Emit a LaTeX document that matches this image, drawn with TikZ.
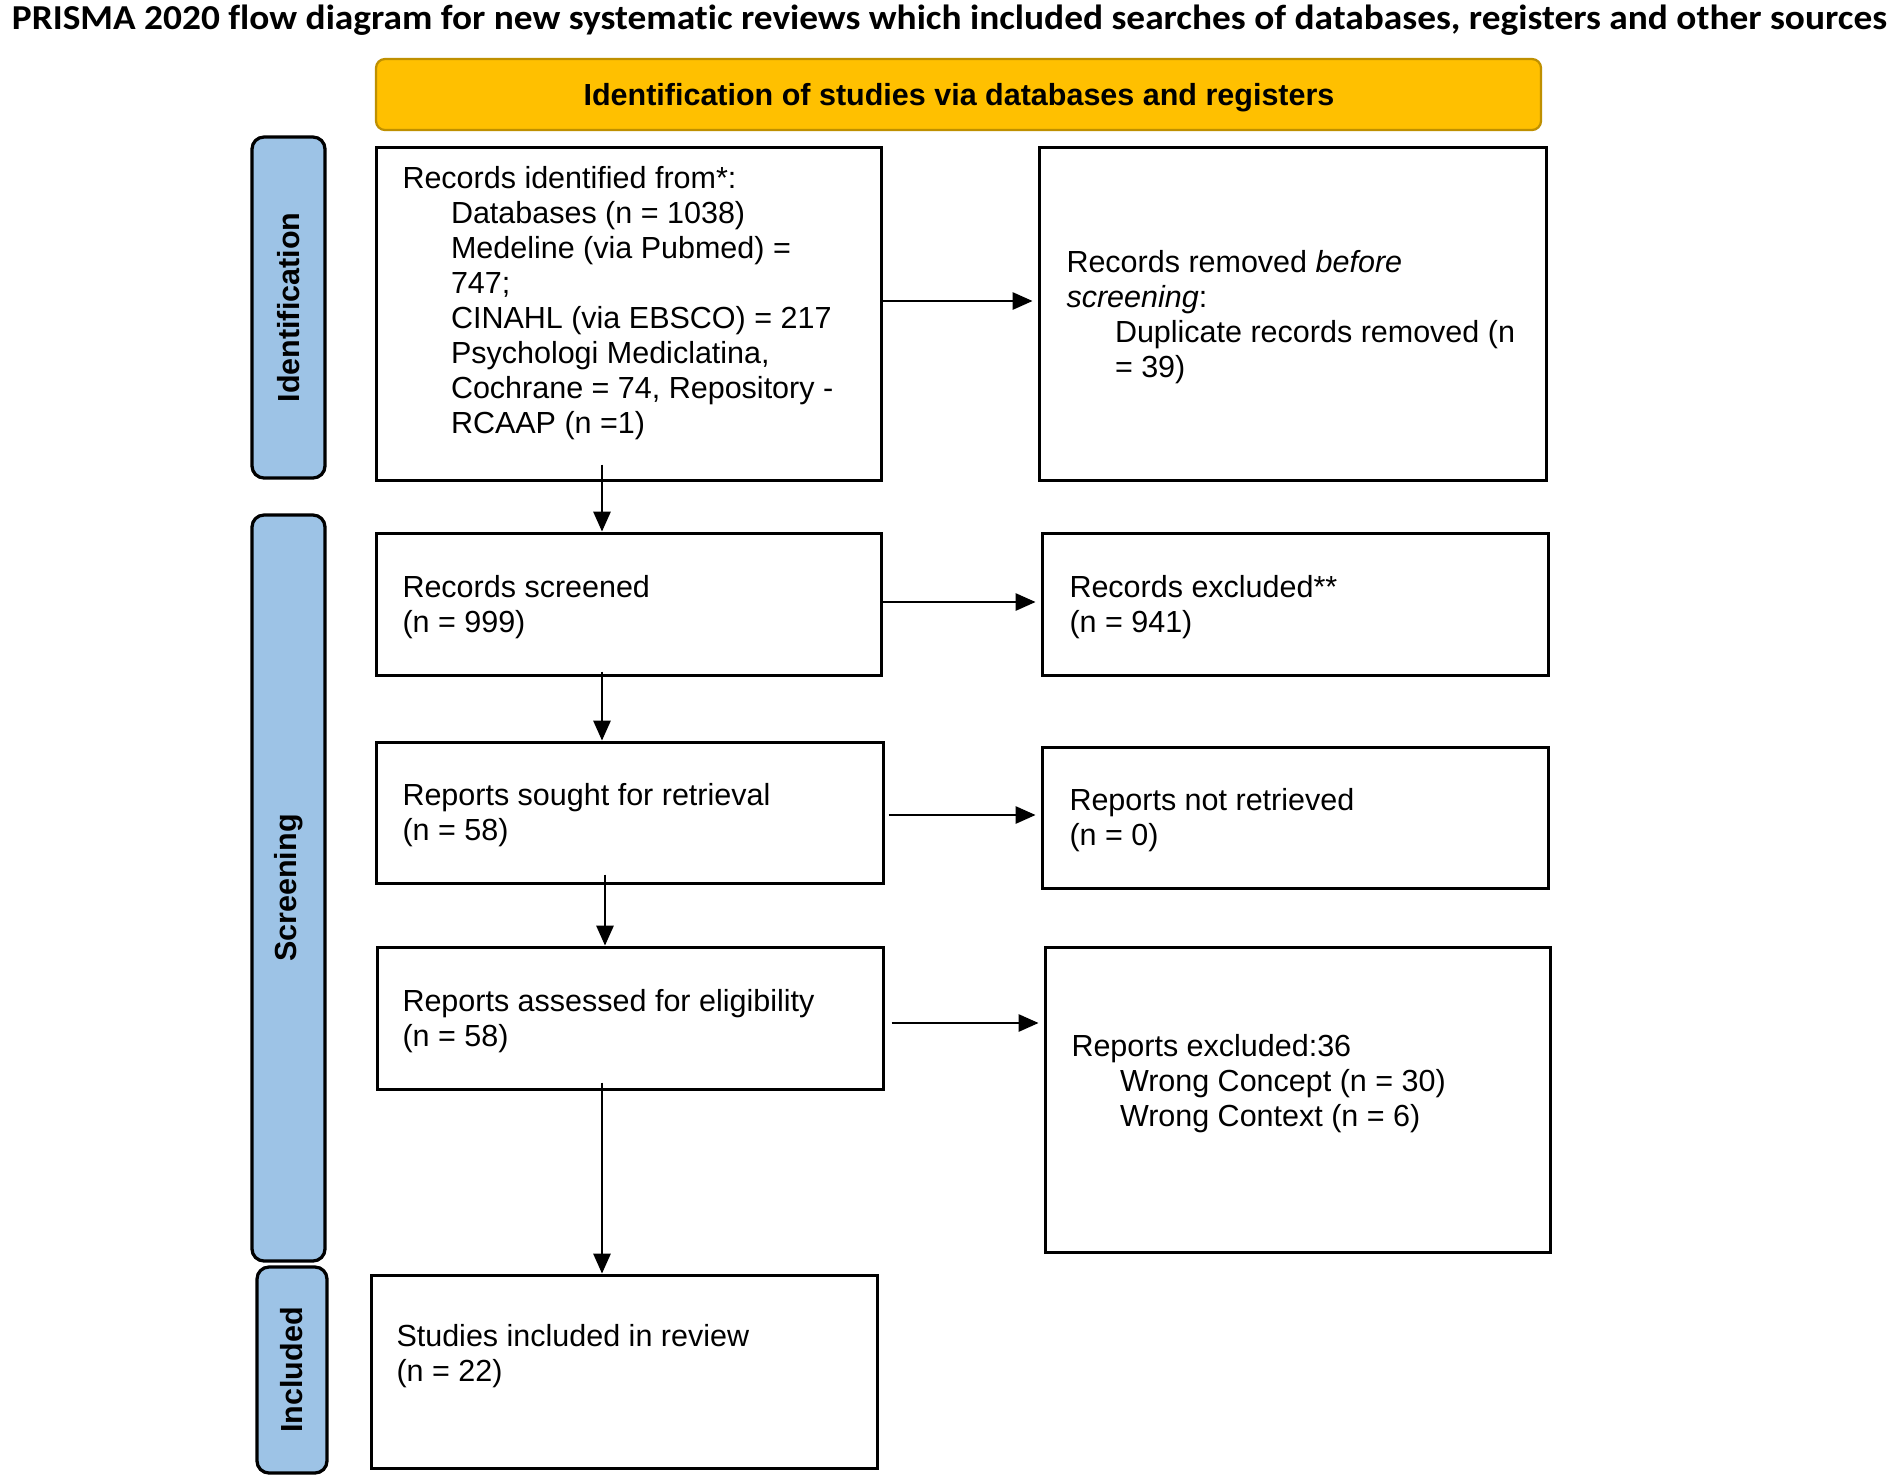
\documentclass[tikz,border=0pt]{standalone}
\usepackage{fontspec}
\usepackage{graphicx}
\setmainfont{Liberation Sans}
\newfontfamily\titlefont[Ligatures=NoCommon]{Carlito}
\usetikzlibrary{arrows.meta,fit,calc}
\definecolor{bannerfill}{HTML}{FFC000}
\definecolor{bannerdraw}{HTML}{BF9000}
\definecolor{sidefill}{HTML}{9DC3E6}
\newcommand\tlines[1]{\vtop{\baselineskip=14pt\lineskip=0pt\lineskiplimit=-20pt #1}}
\newcommand\oneline[1]{\hbox{#1}}
\newcommand\indline[1]{\hbox{\kern19.4pt #1}}
\begin{document}
\begin{tikzpicture}[x=0.4pt,y=-0.4pt,
  box/.style={draw=black, line width=1.2pt, inner sep=0pt, fill=white},
  side/.style={draw=black, line width=1.3pt, fill=sidefill, rounded corners=4.8pt, inner sep=0pt},
  sidelabel/.style={rotate=90, font=\fontsize{12.2pt}{14pt}\selectfont\bfseries, inner sep=0pt},
  txt/.style={anchor=base west, inner sep=0pt, font=\fontsize{12.2pt}{14pt}\selectfont},
  arr/.style={line width=0.6pt, -{Triangle[length=8pt,width=7pt]}},
]
\useasboundingbox (0,0) rectangle (1901,1482);
\fill[white] (0,0) rectangle (1901,1482);

% title
\node[anchor=base, inner sep=0pt] (title) at (949.5,29)
  {\resizebox{750pt}{\height}{\titlefont\bfseries\fontsize{14pt}{16pt}\selectfont PRISMA 2020 flow diagram for new systematic reviews which included searches of databases, registers and other sources}};

% banner
\node[fit={(376,59) (1541,130)}, draw=bannerdraw, fill=bannerfill, line width=0.9pt, rounded corners=3.6pt, inner sep=0pt] (banner) {};
\node[anchor=base, inner sep=0pt, font=\fontsize{12.2pt}{14pt}\selectfont\bfseries] (bannertext) at (959,105) {Identification of studies via databases and registers};

% side boxes
\node[side, fit={(252,137) (325,478)}] (sid) {};
\node[sidelabel] (sidtxt) at (sid.center) {Identification};
\node[side, fit={(252,515) (325,1261)}] (sscr) {};
\node[sidelabel] (sscrtxt) at (sscr.center) {Screening};
\node[side, fit={(257,1267) (327,1473)}] (sinc) {};
\node[sidelabel] (sinctxt) at (sinc.center) {Included};

% boxes
\node[box, fit={(376,147) (881,480)}] (b1) {};
\node[box, fit={(1039,147) (1546,480)}] (b2) {};
\node[box, fit={(376,533) (881,675)}] (b3) {};
\node[box, fit={(1042,533) (1548,675)}] (b4) {};
\node[box, fit={(376,742) (883,883)}] (b5) {};
\node[box, fit={(1042,747) (1548,888)}] (b6) {};
\node[box, fit={(377,947) (883,1089)}] (b7) {};
\node[box, fit={(1045,947) (1550,1252)}] (b8) {};
\node[box, fit={(371,1275) (877,1468)}] (b9) {};

% texts
\node[txt] (t1) at (402,188) {\tlines{%
  \oneline{Records identified from*:}%
  \indline{Databases (n = 1038)}%
  \indline{Medeline (via Pubmed) =}%
  \indline{747;}%
  \indline{CINAHL (via EBSCO) = 217}%
  \indline{Psychologi Mediclatina,}%
  \indline{Cochrane = 74, Repository -}%
  \indline{RCAAP (n =1)}}};
\node[txt] (t2) at (1066,272) {\tlines{%
  \oneline{Records removed \textit{before}}%
  \oneline{\textit{screening}:}%
  \indline{Duplicate records removed (n}%
  \indline{= 39)}}};
\node[txt] (t3) at (402,597) {\tlines{\oneline{Records screened}\oneline{(n = 999)}}};
\node[txt] (t4) at (1069,597) {\tlines{\oneline{Records excluded**}\oneline{(n = 941)}}};
\node[txt] (t5) at (402,805) {\tlines{\oneline{Reports sought for retrieval}\oneline{(n = 58)}}};
\node[txt] (t6) at (1069,810) {\tlines{\oneline{Reports not retrieved}\oneline{(n = 0)}}};
\node[txt] (t7) at (402,1011) {\tlines{\oneline{Reports assessed for eligibility}\oneline{(n = 58)}}};
\node[txt] (t8) at (1071,1056) {\tlines{%
  \oneline{Reports excluded:36}%
  \indline{Wrong Concept (n = 30)}%
  \indline{Wrong Context (n = 6)}}};
\node[txt] (t9) at (396,1346) {\tlines{\oneline{Studies included in review}\oneline{(n = 22)}}};

% connectors
\coordinate (ax) at (602,0);
\coordinate (axb) at (605,0);
\coordinate (h1) at (0,301);
\coordinate (h2) at (0,602);
\coordinate (h3) at (0,815);
\coordinate (h4) at (0,1023);
\draw[arr] ($(b1.south -| ax)+(0,-17)$) -- (b3.north -| ax);
\draw[arr] ($(b3.south -| ax)+(0,-5)$) -- (b5.north -| ax);
\draw[arr] ($(b5.south -| axb)+(0,-10)$) -- (b7.north -| axb);
\draw[arr] ($(b7.south -| ax)+(0,-8)$) -- (b9.north -| ax);
\draw[arr, shorten >=2pt] (b1.east |- h1) -- (b2.west |- h1);
\draw[arr, shorten >=2pt] (b3.east |- h2) -- (b4.west |- h2);
\draw[arr, shorten >=2pt, shorten <=1.6pt] (b5.east |- h3) -- (b6.west |- h3);
\draw[arr, shorten >=2pt, shorten <=2.8pt] (b7.east |- h4) -- (b8.west |- h4);
\end{tikzpicture}
\end{document}
